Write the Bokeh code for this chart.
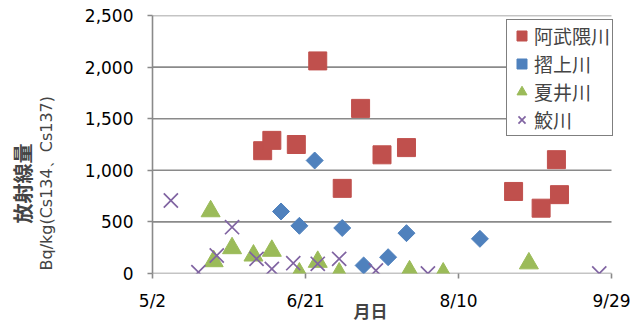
import numpy as np
import pandas as pd
from bokeh.plotting import figure
from bokeh.models import Range1d, FixedTicker, Legend, LegendItem, Title, NumeralTickFormatter
from bokeh.embed import file_html
from bokeh.resources import INLINE

# ---- data ----
start_date = "2011-05-02"
tick_dates = ["2011-05-02", "2011-06-21", "2011-08-10", "2011-09-29"]
tick_labels = ["5/2", "6/21", "8/10", "9/29"]
y_ticks = [0, 500, 1000, 1500, 2000, 2500]

abukuma_dates = ["2011-06-07", "2011-06-10", "2011-06-18", "2011-06-25", "2011-07-03", "2011-07-09",
                 "2011-07-16", "2011-07-24", "2011-08-28", "2011-09-06", "2011-09-11", "2011-09-12"]
abukuma_vals = [1190, 1290, 1250, 2060, 825, 1600, 1150, 1220, 795, 633, 1103, 764]

surikami_dates = ["2011-06-13", "2011-06-19", "2011-06-24", "2011-07-03", "2011-07-10", "2011-07-18",
                  "2011-07-24", "2011-08-17"]
surikami_vals = [601, 462, 1095, 441, 78, 158, 391, 336]

natsui_dates = ["2011-05-21", "2011-05-22", "2011-05-28", "2011-06-04", "2011-06-10", "2011-06-19",
                "2011-06-25", "2011-07-02", "2011-07-25", "2011-08-05", "2011-09-02"]
natsui_vals = [603, 119, 245, 174, 220, 0, 113, 0, 21, 0, 98]

same_dates = ["2011-05-08", "2011-05-17", "2011-05-23", "2011-05-28", "2011-06-05", "2011-06-10",
              "2011-06-17", "2011-06-25", "2011-07-02", "2011-07-14", "2011-07-31", "2011-09-25"]
same_vals = [707, 13, 174, 449, 142, 45, 100, 94, 142, 29, 0, 0]

names = ["阿武隈川", "摺上川", "夏井川", "鮫川"]


def days(ds):
    return ((pd.to_datetime(ds) - pd.Timestamp(start_date)).days).tolist()


FONT = "DejaVu Sans"
CJK = "Noto Sans CJK JP"
GRID = "#8a8a8a"

tick_days = days(tick_dates)
# frame is 473 px wide; the dated span occupies 459 px of it (extra room for the legend)
x_end = tick_days[-1] * 473.0 / 459.0

p = figure(width=639, height=322, output_backend="svg", toolbar_location=None,
           x_range=Range1d(tick_days[0], x_end), y_range=Range1d(y_ticks[0], y_ticks[-1]),
           min_border_left=152, min_border_right=14, min_border_top=15, min_border_bottom=49)
p.outline_line_color = None
p.background_fill_color = "white"
p.border_fill_color = "white"

p.xgrid.visible = False
p.ygrid.visible = False
# horizontal gridlines only across the dated span
n = len(y_ticks)
p.segment(x0=[tick_days[0]] * n, x1=[tick_days[-1]] * n, y0=y_ticks, y1=y_ticks,
          line_color=GRID, line_width=1.6)

p.xaxis.ticker = FixedTicker(ticks=tick_days)
p.xaxis.major_label_overrides = {d: l for d, l in zip(tick_days, tick_labels)}
p.yaxis.ticker = FixedTicker(ticks=y_ticks)
p.yaxis.formatter = NumeralTickFormatter(format="0,0")

for ax in (p.xaxis, p.yaxis):
    ax.axis_line_color = GRID
    ax.axis_line_width = 1.6
    ax.major_tick_line_color = GRID
    ax.major_tick_line_width = 1.6
    ax.major_tick_in = 0
    ax.major_tick_out = 5
    ax.minor_tick_line_color = None
    ax.major_label_text_font = FONT
    ax.major_label_text_font_size = "17px"
    ax.major_label_text_color = "black"
p.xaxis.axis_line_color = None
p.xaxis.major_label_standoff = 12
p.yaxis.major_label_standoff = 14

r1 = p.scatter(days(abukuma_dates), abukuma_vals, marker="square", size=18,
               fill_color="#C0504D", line_color="#C0504D")
r2 = p.scatter(days(surikami_dates), surikami_vals, marker="square", size=12, angle=np.pi / 4,
               fill_color="#4F81BD", line_color="#4F81BD")
r3 = p.scatter(days(natsui_dates), natsui_vals, marker="triangle", size=19,
               fill_color="#9BBB59", line_color="#9BBB59")
r4 = p.scatter(days(same_dates), same_vals, marker="x", size=20,
               line_color="#8064A2", line_width=1.7)

legend = Legend(items=[LegendItem(label=n_, renderers=[r]) for n_, r in zip(names, [r1, r2, r3, r4])],
                location=(354, 137), margin=0, padding=2, spacing=1,
                glyph_width=25, glyph_height=25, label_height=25, label_standoff=0,
                label_text_font=CJK, label_text_font_size="19px",
                border_line_color="black", border_line_width=1.6,
                background_fill_color="white", background_fill_alpha=1)
p.add_layout(legend)

p.add_layout(Title(text="Bq/kg(Cs134、Cs137)", align="left", offset=3, standoff=52,
                   text_font=FONT, text_font_size="16px", text_font_style="normal"), "left")
p.add_layout(Title(text="放射線量", align="left", offset=50, standoff=-56,
                   text_font=CJK, text_font_size="20px", text_font_style="bold"), "left")
p.add_layout(Title(text="月日", align="left", offset=201, standoff=-32, vertical_align="top",
                   text_font=CJK, text_font_size="17px", text_font_style="bold"), "below")

open("out.html", "w").write(file_html(p, INLINE))
